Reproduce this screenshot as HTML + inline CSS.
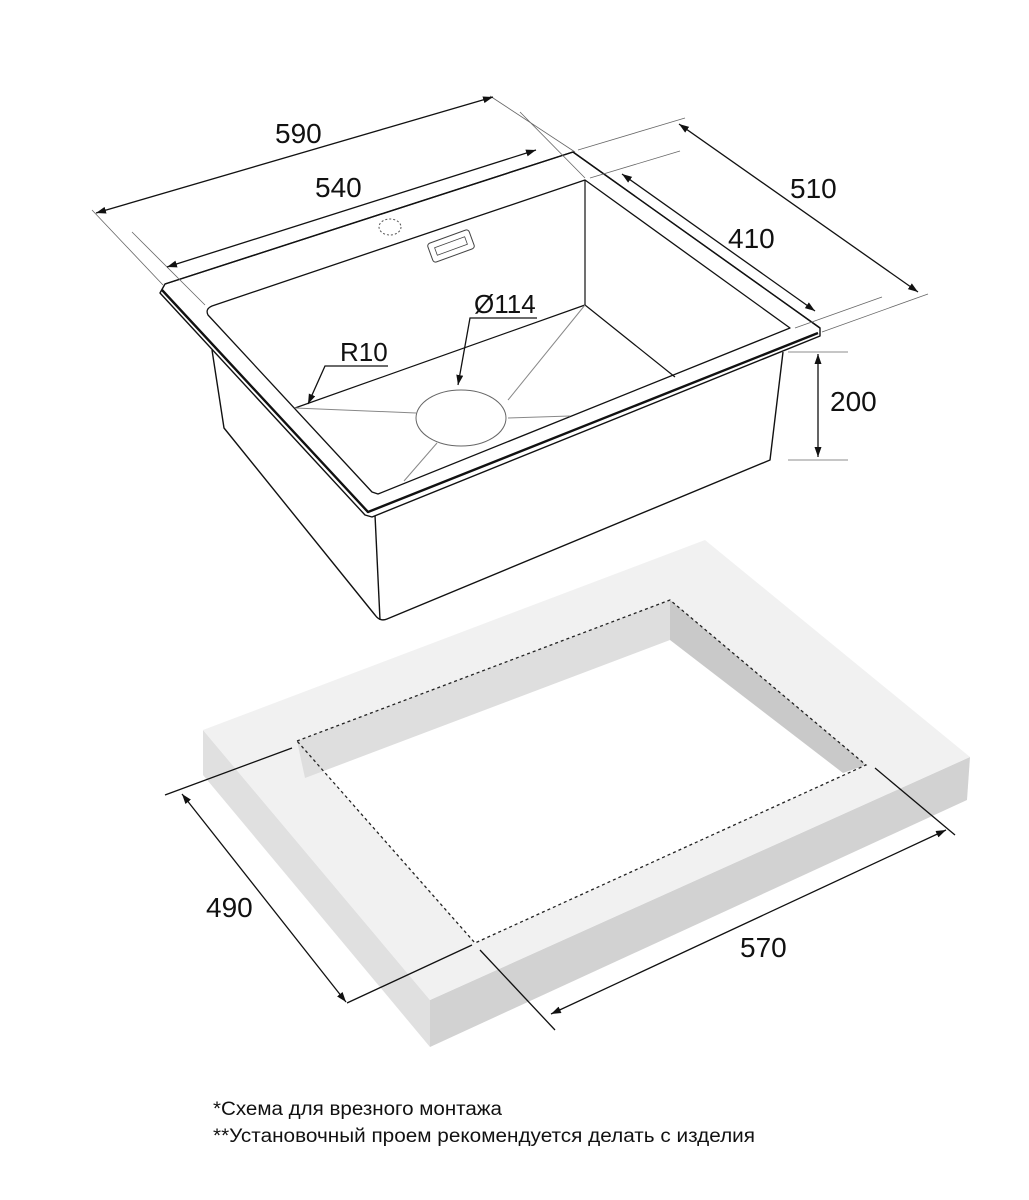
<!DOCTYPE html>
<html><head><meta charset="utf-8"><style>
html,body{margin:0;padding:0;background:#fff;}
svg{display:block;}
text{font-family:"Liberation Sans",sans-serif;fill:#111;}
</style></head><body>
<svg width="1029" height="1200" viewBox="0 0 1029 1200" xmlns="http://www.w3.org/2000/svg">
<defs>
<marker id="a" viewBox="0 0 10 10" refX="10" refY="5" markerWidth="10" markerHeight="10" orient="auto-start-reverse" markerUnits="userSpaceOnUse"><path d="M0,1.5 L10,5 L0,8.5 Z" fill="#111"/></marker>
</defs>
<!-- Countertop -->
<polygon points="203,730 430,1000 430,1047 203,775" fill="#e0e0e0"/>
<polygon points="430,1000 970,757 967,800 430,1047" fill="#d2d2d2"/>
<polygon points="203,730 705,540 970,757 430,1000" fill="#f1f1f1"/>
<polygon points="297,741 670,600 866,765 475,943" fill="#fff"/>
<polygon points="297,741 670,600 670,640 305,778" fill="#dedede"/>
<polygon points="670,600 866,765 843,773 670,640" fill="#c9c9c9"/>
<polygon points="297,741 670,600 866,765 475,943" fill="none" stroke="#222" stroke-width="1.3" stroke-dasharray="3,3"/>
<g stroke="#111" stroke-width="1.3" fill="none">
<line x1="165" y1="795" x2="292" y2="748"/>
<line x1="347" y1="1003" x2="472" y2="945"/>
<line x1="182" y1="794" x2="346" y2="1002" marker-start="url(#a)" marker-end="url(#a)"/>
<line x1="480" y1="950" x2="555" y2="1030"/>
<line x1="875" y1="768" x2="955" y2="835"/>
<line x1="551" y1="1014" x2="946" y2="830" marker-start="url(#a)" marker-end="url(#a)"/>
</g>
<text x="206" y="917" font-size="28">490</text>
<text x="740" y="957" font-size="28">570</text>
<!-- Sink body -->
<g stroke="#111" stroke-width="1.4" fill="none" stroke-linejoin="round">
<path d="M212,350 L224,428 L375,615 Q380,622 387,619 L770,460 L783,352"/>
<line x1="375" y1="515" x2="380" y2="620"/>
<path d="M165,284 L573,152 L820,328 L820,336 L372,517 L365,515 L160,293 Z" fill="#fff"/>
<path d="M165,284 L573,152 L820,328" />
<path d="M162,290 L368,512 L818,333" stroke-width="2.4"/>
<path d="M212,306 L585,180 L790,328 L378,494 L372,492 L208,315 Q205,309 212,306 Z" stroke-width="1.3"/>
<line x1="585" y1="180" x2="585" y2="305" stroke-width="1.2"/>
<line x1="295" y1="408" x2="585" y2="305" stroke-width="1.2"/>
<line x1="585" y1="305" x2="675" y2="377" stroke-width="1.2"/>
</g>
<g stroke="#888" stroke-width="1" fill="none">
<line x1="585" y1="305" x2="508" y2="400"/>
<line x1="295" y1="408" x2="416" y2="413"/>
<line x1="508" y1="418" x2="570" y2="416"/>
<line x1="437" y1="443" x2="404" y2="481"/>
<ellipse cx="461" cy="418" rx="45" ry="28" stroke="#666"/>
<ellipse cx="390" cy="227" rx="11" ry="8" stroke="#555" stroke-dasharray="2,2"/>
</g>
<g transform="translate(451,246) rotate(-20)">
<rect x="-22" y="-10" width="44" height="20" rx="3" fill="none" stroke="#444" stroke-width="1"/>
<rect x="-16" y="-4" width="32" height="8" fill="none" stroke="#444" stroke-width="0.8"/>
</g>
<g stroke="#111" stroke-width="1.3" fill="none">
<line x1="92" y1="210" x2="163" y2="285" stroke-width="0.8" stroke="#666"/>
<line x1="490" y1="96" x2="575" y2="152" stroke-width="0.8" stroke="#666"/>
<line x1="96" y1="213" x2="493" y2="97" marker-start="url(#a)" marker-end="url(#a)"/>
<line x1="132" y1="232" x2="205" y2="305" stroke-width="0.8" stroke="#666"/>
<line x1="520" y1="112" x2="585" y2="178" stroke-width="0.8" stroke="#666"/>
<line x1="167" y1="267" x2="536" y2="150" marker-start="url(#a)" marker-end="url(#a)"/>
<line x1="578" y1="150" x2="685" y2="118" stroke-width="0.8" stroke="#666"/>
<line x1="822" y1="332" x2="928" y2="294" stroke-width="0.8" stroke="#666"/>
<line x1="679" y1="124" x2="918" y2="292" marker-start="url(#a)" marker-end="url(#a)"/>
<line x1="590" y1="178" x2="680" y2="151" stroke-width="0.8" stroke="#666"/>
<line x1="795" y1="328" x2="882" y2="297" stroke-width="0.8" stroke="#666"/>
<line x1="622" y1="174" x2="815" y2="311" marker-start="url(#a)" marker-end="url(#a)"/>
<line x1="788" y1="352" x2="848" y2="352" stroke-width="0.8" stroke="#666"/>
<line x1="788" y1="460" x2="848" y2="460" stroke-width="0.8" stroke="#666"/>
<line x1="818" y1="354" x2="818" y2="457" marker-start="url(#a)" marker-end="url(#a)"/>
<polyline points="537,318 470,318 458,385" marker-end="url(#a)"/>
<polyline points="388,366 325,366 308,404" marker-end="url(#a)"/>
</g>
<text x="275" y="143" font-size="28">590</text>
<text x="315" y="197" font-size="28">540</text>
<text x="790" y="198" font-size="28">510</text>
<text x="728" y="248" font-size="28">410</text>
<text x="830" y="411" font-size="28">200</text>
<text x="474" y="313" font-size="26">Ø114</text>
<text x="340" y="361" font-size="26">R10</text>
<text x="213" y="1115" font-size="19" textLength="289" lengthAdjust="spacingAndGlyphs">*Схема для врезного монтажа</text>
<text x="213" y="1142" font-size="19" textLength="542" lengthAdjust="spacingAndGlyphs">**Установочный проем рекомендуется делать с изделия</text>
</svg>
</body></html>
